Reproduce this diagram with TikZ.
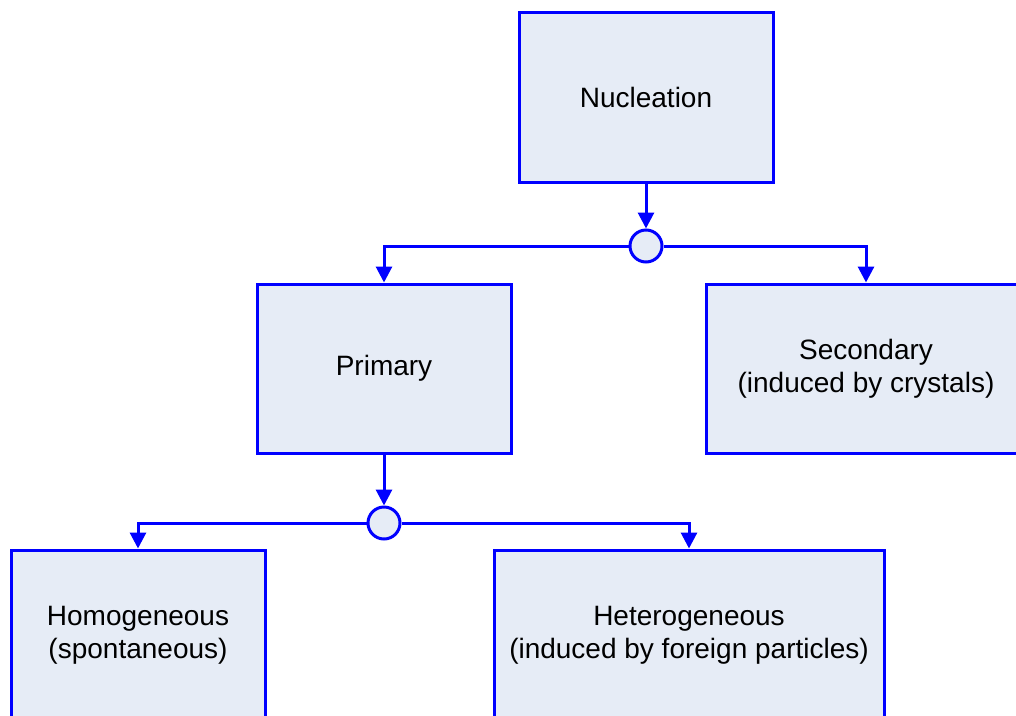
\documentclass[tikz,border=0pt]{standalone}
\usepackage{fontspec}
\setmainfont{Liberation Sans}
\usetikzlibrary{arrows.meta}
\definecolor{lineblue}{HTML}{0000FF}
\definecolor{boxfill}{HTML}{E6ECF6}
\tikzset{
  box/.style={draw=lineblue, fill=boxfill, line width=3pt, inner sep=0pt, align=center,
    font=\fontsize{28}{33}\selectfont, text=black},
  junction/.style={circle, draw=lineblue, fill=boxfill, line width=3pt, minimum size=32pt, inner sep=0pt},
  conn/.style={draw=lineblue, line width=3pt, -{Triangle[length=16pt,width=16pt]}}
}
\begin{document}
\begin{tikzpicture}[x=1pt,y=-1pt]
\useasboundingbox (0,0) rectangle (1016,715);
\clip (0,0) rectangle (1016,715);
\node[box, minimum width=254pt, minimum height=170pt] (nuc) at (646,97) {Nucleation};
\node[junction] (j1) at (646,246) {};
\node[box, minimum width=254pt, minimum height=169pt] (prim) at (384,368.5) {Primary};
\node[box, minimum width=320pt, minimum height=169pt] (sec) at (866,368.5) {Secondary\\(induced by crystals)};
\node[junction] (j2) at (384,523) {};
\node[box, minimum width=254pt, minimum height=170pt] (homo) at (138,635) {Homogeneous\\(spontaneous)};
\node[box, minimum width=390pt, minimum height=170pt] (hetero) at (689,635) {Heterogeneous\\(induced by foreign particles)};
\draw[conn] (nuc.south) -- (j1.north);
\draw[conn] (j1.west) -| (prim.north);
\draw[conn] (j1.east) -| (sec.north);
\draw[conn] (prim.south) -- (j2.north);
\draw[conn] (j2.west) -| (homo.north);
\draw[conn] (j2.east) -| (hetero.north);
\end{tikzpicture}
\end{document}
